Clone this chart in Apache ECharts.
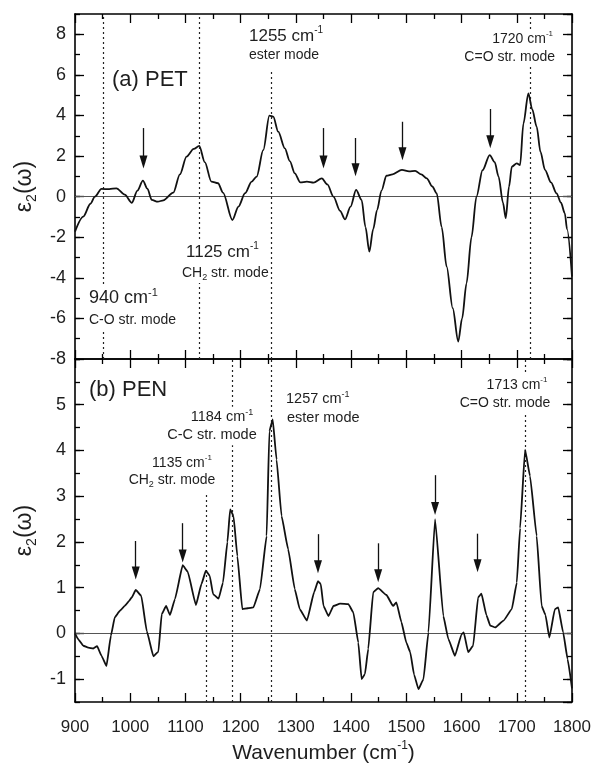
<!DOCTYPE html>
<html><head><meta charset="utf-8">
<script src="https://cdn.jsdelivr.net/npm/echarts@6/dist/echarts.min.js"></script>
<style>html,body{margin:0;padding:0;background:#fff}#c{width:594px;height:767px}</style>
</head><body><div id="c"></div>
<script>
// ---- data ----
const xMin = 900, xMax = 1800, xStep = 100;
const petYMin = -8, petYMax = 9;
const penYMin = -1.5, penYMax = 6;

const petX = [900,915,928,936,948,962,975,990,1003,1013,1023,1031,1039,1050,1060,1078,1090,1102,1115,1125,1135,1147,1159,1168,1185,1196,1208,1220,1229,1241,1252,1259,1268,1280,1289,1298,1308,1320,1332,1347,1357,1368,1380,1389,1399,1409,1419,1426,1433,1440,1447,1455,1464,1475,1492,1505,1516,1527,1537,1547,1555,1564,1573,1584,1594,1601,1609,1618,1627,1638,1651,1660,1667,1675,1680,1686,1691,1700,1706,1712,1721,1728,1736,1743,1751,1762,1772,1780,1787,1791,1800];
const petY = [-1.72,-0.98,-0.35,0.0,0.38,0.37,0.41,0.1,-0.30,0.3,0.79,0.4,-0.16,-0.25,-0.18,0.2,1.1,1.97,2.35,2.5,1.7,0.74,0.66,0.2,-1.15,-0.49,0.17,0.74,0.99,2.3,3.99,3.94,3.2,2.38,1.75,1.15,0.7,0.74,0.69,0.9,0.6,0.0,-0.7,-1.12,-0.49,0.33,-0.16,-1.5,-2.71,-1.6,-0.66,0.3,1.03,1.1,1.32,1.25,1.27,1.1,0.9,0.5,0.16,-1.5,-3.45,-5.5,-7.14,-6.0,-4.27,-2.0,0.0,1.3,2.05,1.7,0.99,-0.3,-1.06,0.5,1.48,1.64,1.56,3.6,5.09,4.3,3.45,2.2,1.32,0.7,0.16,-0.3,-0.82,-1.6,-3.94];

const penX = [900,906,915,924,933,940,948,957,965,972,981,990,998,1003,1010,1020,1030,1042,1051,1057,1065,1072,1081,1095,1104,1119,1129,1137,1144,1150,1160,1168,1176,1181,1187,1194,1203,1213,1223,1235,1247,1252,1258,1265,1274,1286,1298,1307,1320,1333,1340,1345,1350,1359,1368,1380,1395,1404,1413,1419,1425,1431,1440,1449,1464,1476,1482,1491,1500,1507,1514,1522,1531,1540,1552,1567,1576,1588,1600,1604,1612,1621,1630,1636,1645,1652,1661,1676,1691,1700,1706,1715,1724,1736,1745,1752,1759,1769,1775,1784,1792,1800];
const penY = [0.0,-0.13,-0.27,-0.31,-0.33,-0.28,-0.49,-0.71,-0.05,0.35,0.49,0.6,0.71,0.79,0.95,0.82,0.05,-0.5,-0.4,0.42,0.6,0.4,0.75,1.49,1.35,0.62,1.08,1.37,1.26,0.86,0.76,1.11,2.0,2.71,2.57,1.69,0.53,0.55,0.57,0.97,2.13,4.42,4.68,3.8,2.57,1.84,0.97,0.53,0.28,0.9,1.14,1.08,0.6,0.38,0.6,0.65,0.64,0.46,-0.2,-1.0,-0.89,-0.34,0.9,0.99,0.84,0.6,0.68,0.25,-0.2,-0.41,-0.9,-1.22,-1.0,0.02,2.5,0.38,-0.12,-0.49,-0.02,0.02,-0.41,-0.27,0.79,0.87,0.4,0.17,0.13,0.28,0.53,1.11,2.3,4.02,3.44,2.13,0.6,0.4,-0.09,0.53,0.57,0.02,-0.56,-1.2];

// dotted mode lines (x position, upper end value)
const petModeX = [951, 1125, 1256, 1724];
const petModeTop = [9, 9, 6.2, 9];
const penModeX = [1137, 1185, 1255, 1715];
const penModeTop = [3.05, 6, 6, 6];

// arrows (x, start value, arrowhead value)
const petArrowX = [1024, 1350, 1408, 1493, 1652];
const petArrowFrom = [3.38, 3.38, 2.89, 3.69, 4.32];
const petArrowTo = [1.71, 1.71, 1.32, 2.11, 2.71];
const penArrowX = [1010, 1095, 1340, 1449, 1552, 1629];
const penArrowFrom = [2.02, 2.41, 2.17, 1.97, 3.46, 2.18];
const penArrowTo = [1.32, 1.69, 1.46, 1.26, 2.73, 1.48];

// ---- styling ----
const font = '"Liberation Sans", Arial, Helvetica, sans-serif';
const ink = '#1e1e1e';
const axisLineStyle = {color:'#000', width:1.6};
const tickStyle = {color:'#000', width:1.3};

function xAx(grid, pos, labels) {
  const a = {type:'value', gridIndex:grid, position:pos, min:xMin, max:xMax, interval:xStep,
    axisLine:{show:true, onZero:false, lineStyle:axisLineStyle},
    axisTick:{show:true, inside:true, length:9, lineStyle:tickStyle},
    minorTick:{show:true, splitNumber:2, length:5, lineStyle:tickStyle},
    splitLine:{show:false}, minorSplitLine:{show:false},
    axisLabel:{show:labels, margin:17, fontSize:17, color:ink, fontFamily:font, formatter:(v)=>String(v)}};
  if (labels) {
    a.name = '{n|Wavenumber (cm}{s|-1}{n|)}';
    a.nameLocation = 'middle';
    a.nameGap = 38;
    a.nameTextStyle = {fontFamily:font, color:ink, rich:{
      n:{fontSize:21, lineHeight:26, fontFamily:font, color:ink},
      s:{fontSize:12, lineHeight:9, verticalAlign:'top', fontFamily:font, color:ink}}};
  }
  return a;
}
function yAx(grid, pos, min, max, extra, major, labels) {
  return Object.assign({type:'value', gridIndex:grid, position:pos, min:min, max:max,
    axisLine:{show:major, onZero:false, lineStyle:axisLineStyle},
    axisTick:{show:true, inside:true, length:major?9:5, lineStyle:tickStyle},
    splitLine:{show:false},
    axisLabel:{show:labels, margin:9, fontSize:18, color:ink, fontFamily:font}}, extra);
}
const yName = {name:'{e|ε}{s|2}{e|(ω)}', nameLocation:'middle', nameGap:34,
  nameTextStyle:{fontFamily:font, color:ink, rich:{
    e:{fontSize:23, lineHeight:28, fontFamily:font, color:ink},
    s:{fontSize:14, lineHeight:13, verticalAlign:'bottom', fontFamily:font, color:ink}}}};

const dotted = {type:[2,3], color:'#222', width:1.2};
function modeLines(xs, tops, bottom) {
  return xs.map((m,i)=>[{coord:[m,bottom], lineStyle:dotted}, {coord:[m,tops[i]], lineStyle:dotted}]);
}
function arrows(xs, from, to) {
  return xs.map((m,i)=>[{coord:[m,from[i]], symbol:'none'}, {coord:[m,to[i]], symbol:'triangle', symbolSize:[8,13]}]);
}

function txt(x, y, text, size, align) {
  return {type:'text', x:x, y:y, z:100, silent:true,
    style:{text:text, align:align, verticalAlign:'middle', fill:ink, fontFamily:font, fontSize:size,
      backgroundColor:'#fff', padding:[1,1,1,1],
      rich:{
        a:{fontSize:size, lineHeight:size+4, fontFamily:font, fill:ink},
        p:{fontSize:Math.round(size*0.6), lineHeight:8, verticalAlign:'top', fontFamily:font, fill:ink},
        b:{fontSize:Math.round(size*0.62), lineHeight:8, verticalAlign:'bottom', fontFamily:font, fill:ink}
      }}};
}

const option = {
  animation:false,
  backgroundColor:'#fff',
  grid:[
    {left:75, top:14, width:497, height:345},
    {left:75, top:359, width:497, height:343}
  ],
  xAxis:[xAx(0,'bottom',false), xAx(0,'top',false), xAx(1,'bottom',true), xAx(1,'top',false)],
  yAxis:[
    yAx(0,'left',petYMin,petYMax,Object.assign({interval:2, axisLabel:{show:true, margin:9, fontSize:18, color:ink, fontFamily:font, showMaxLabel:false}}, yName),true,true),
    yAx(0,'left',petYMin,petYMax,{interval:1},false,false),
    yAx(0,'right',petYMin,petYMax,{interval:2},true,false),
    yAx(0,'right',petYMin,petYMax,{interval:1},false,false),
    yAx(1,'left',penYMin,penYMax,Object.assign({minInterval:1, maxInterval:1, splitNumber:7, axisLabel:{show:true, margin:9, fontSize:18, color:ink, fontFamily:font, showMinLabel:false, showMaxLabel:false}}, yName),true,true),
    yAx(1,'left',penYMin,penYMax,{interval:0.5},false,false),
    yAx(1,'right',penYMin,penYMax,{minInterval:1, maxInterval:1, splitNumber:7},true,false),
    yAx(1,'right',penYMin,penYMax,{interval:0.5},false,false)
  ],
  series:[
    {type:'line', name:'PET', xAxisIndex:0, yAxisIndex:0, data:petX.map((x,i)=>[x,petY[i]]),
     symbol:'none', smooth:0.3, smoothMonotone:'x', lineStyle:{color:'#111', width:1.8}, z:5,
     markLine:{silent:true, symbol:'none', animation:false, label:{show:false},
       lineStyle:dotted,
       data:[{yAxis:0, lineStyle:{type:'solid', color:'#555', width:1}}].concat(modeLines(petModeX, petModeTop, petYMin))}},
    {type:'line', name:'PETarrows', xAxisIndex:0, yAxisIndex:0, data:[], symbol:'none',
     markLine:{silent:true, animation:false, label:{show:false}, lineStyle:{type:'solid', color:'#111', width:1.3},
       itemStyle:{color:'#111'}, data:arrows(petArrowX, petArrowFrom, petArrowTo)}},
    {type:'line', name:'PEN', xAxisIndex:2, yAxisIndex:4, data:penX.map((x,i)=>[x,penY[i]]),
     symbol:'none', smooth:0.12, smoothMonotone:'x', lineStyle:{color:'#111', width:1.8}, z:5,
     markLine:{silent:true, symbol:'none', animation:false, label:{show:false},
       lineStyle:dotted,
       data:[{yAxis:0, lineStyle:{type:'solid', color:'#555', width:1}}].concat(modeLines(penModeX, penModeTop, penYMin))}},
    {type:'line', name:'PENarrows', xAxisIndex:2, yAxisIndex:4, data:[], symbol:'none',
     markLine:{silent:true, animation:false, label:{show:false}, lineStyle:{type:'solid', color:'#111', width:1.3},
       itemStyle:{color:'#111'}, data:arrows(penArrowX, penArrowFrom, penArrowTo)}}
  ],
  graphic:[
    txt(111, 80, '{a|(a) PET}', 22, 'left'),
    txt(248, 36, '{a|1255 cm}{p|-1}', 17, 'left'),
    txt(248, 55, '{a|ester mode}', 14, 'left'),
    txt(554, 39, '{a|1720 cm}{p|-1}', 14, 'right'),
    txt(556, 57, '{a|C=O str. mode}', 14, 'right'),
    txt(185, 252, '{a|1125 cm}{p|-1}', 17, 'left'),
    txt(181, 273, '{a|CH}{b|2}{a| str. mode}', 14, 'left'),
    txt(88, 298, '{a|940 cm}{p|-1}', 18, 'left'),
    txt(88, 320, '{a|C-O str. mode}', 14, 'left'),
    txt(88, 390, '{a|(b) PEN}', 22, 'left'),
    txt(222, 417, '{a|1184 cm}{p|-1}', 14.5, 'center'),
    txt(212, 435, '{a|C-C str. mode}', 14.5, 'center'),
    txt(182, 463, '{a|1135 cm}{p|-1}', 14, 'center'),
    txt(172, 480, '{a|CH}{b|2}{a| str. mode}', 14, 'center'),
    txt(285, 399, '{a|1257 cm}{p|-1}', 14.5, 'left'),
    txt(286, 418, '{a|ester mode}', 14.5, 'left'),
    txt(517, 385, '{a|1713 cm}{p|-1}', 14, 'center'),
    txt(505, 403, '{a|C=O str. mode}', 14, 'center')
  ]
};
const chart = echarts.init(document.getElementById('c'), null, {renderer:'canvas'});
chart.setOption(option);
</script></body></html>
